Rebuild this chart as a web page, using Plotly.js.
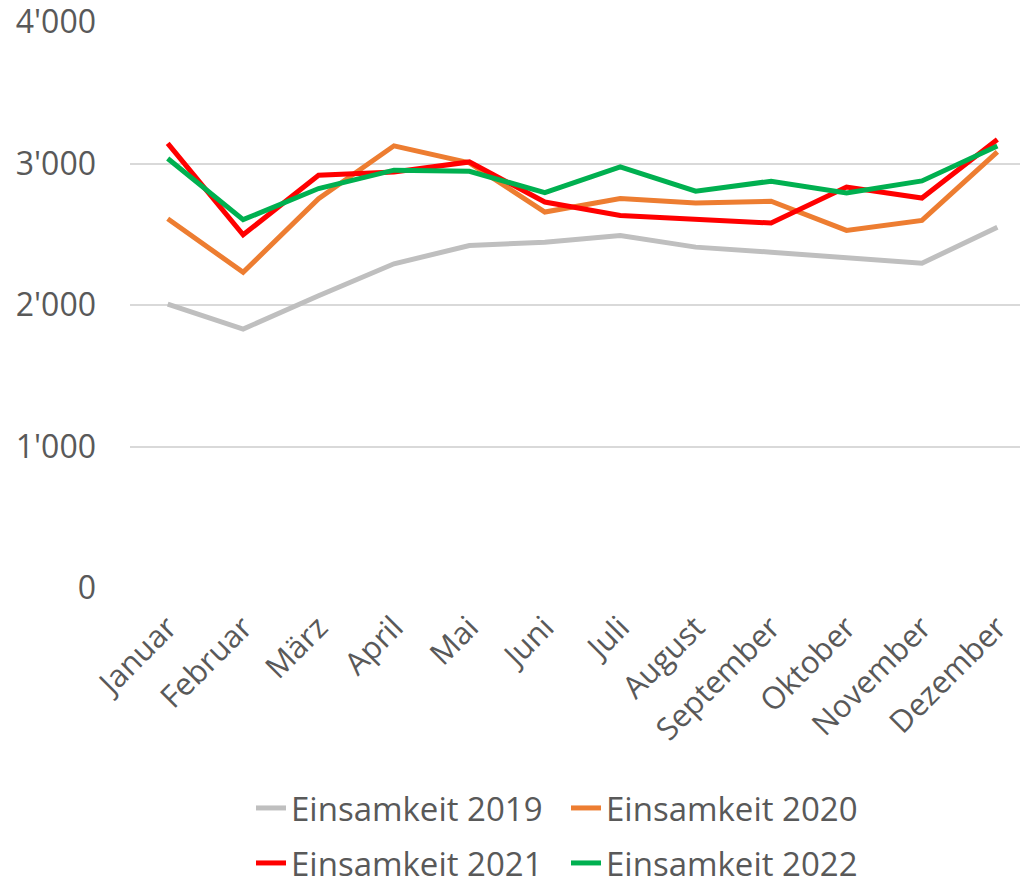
<!DOCTYPE html>
<html>
<head>
<meta charset="utf-8">
<script src="https://cdn.plot.ly/plotly-3.0.1.min.js"></script>
<style>html,body{margin:0;padding:0;background:#fff;}#chart{width:1020px;height:887px;}</style>
</head>
<body>
<div id="chart"></div>
<script>
const months = ["Januar","Februar","März","April","Mai","Juni","Juli","August","September","Oktober","November","Dezember"];
const einsamkeit2019 = [2007, 1830, 2065, 2291, 2420, 2444, 2491, 2409, 2373, 2338, 2295, 2550];
const einsamkeit2020 = [2610, 2231, 2752, 3125, 3004, 2657, 2752, 2721, 2733, 2527, 2598, 3082];
const einsamkeit2021 = [3142, 2496, 2917, 2940, 3011, 2728, 2633, 2603, 2579, 2834, 2756, 3170];
const einsamkeit2022 = [3035, 2603, 2823, 2953, 2945, 2794, 2976, 2804, 2875, 2792, 2877, 3123];
const seriesNames = ["Einsamkeit 2019","Einsamkeit 2020","Einsamkeit 2021","Einsamkeit 2022"];
const yTickVals = [0, 1000, 2000, 3000, 4000];
const yTickText = ["0", "1'000", "2'000", "3'000", "4'000"];

const colors = ["#BFBFBF", "#ED7D31", "#FF0000", "#00B050"];
const data = [einsamkeit2019, einsamkeit2020, einsamkeit2021, einsamkeit2022];
const legends = ["legend", "legend", "legend2", "legend2"];
const traces = data.map((vals, i) => ({
  type: "scatter", mode: "lines",
  x: months.map((m, j) => j), y: vals, name: seriesNames[i],
  line: {color: colors[i], width: 5, shape: "linear"},
  legend: legends[i]
}));

const font = "Open Sans, sans-serif";
const legendCommon = {
  orientation: "h", xref: "container", yref: "container",
  xanchor: "left", yanchor: "middle",
  font: {family: font, size: 33, color: "#595959"},
  entrywidth: 270, entrywidthmode: "pixels",
  itemwidth: 30, bgcolor: "rgba(0,0,0,0)"
};
const layout = {
  width: 1020, height: 887,
  margin: {l: 130, r: 0, t: 22, b: 299},
  paper_bgcolor: "#fff", plot_bgcolor: "#fff",
  showlegend: true,
  xaxis: {
    range: [-0.5, 11.3],
    tickmode: "array", tickvals: months.map((m, j) => j), ticktext: months,
    tickangle: -45, showgrid: false, zeroline: false, showline: false,
    ticks: "", ticklabelstandoff: 14,
    tickfont: {family: font, size: 31, color: "#595959"},
    fixedrange: true
  },
  yaxis: {
    range: [0, 4000], tickmode: "array", tickvals: yTickVals, ticktext: yTickText,
    showgrid: true, gridcolor: "#D9D9D9", gridwidth: 2,
    zeroline: false, showline: false, ticks: "",
    ticklabelstandoff: 33, ticklabeloverflow: "allow",
    tickfont: {family: font, size: 32, color: "#595959"},
    fixedrange: true
  },
  legend: Object.assign({}, legendCommon, {x: 251/1020, y: 1 - 808/887}),
  legend2: Object.assign({}, legendCommon, {x: 251/1020, y: 1 - 863/887})
};
Plotly.newPlot("chart", traces, layout, {displayModeBar: false, staticPlot: true});
</script>
</body>
</html>
